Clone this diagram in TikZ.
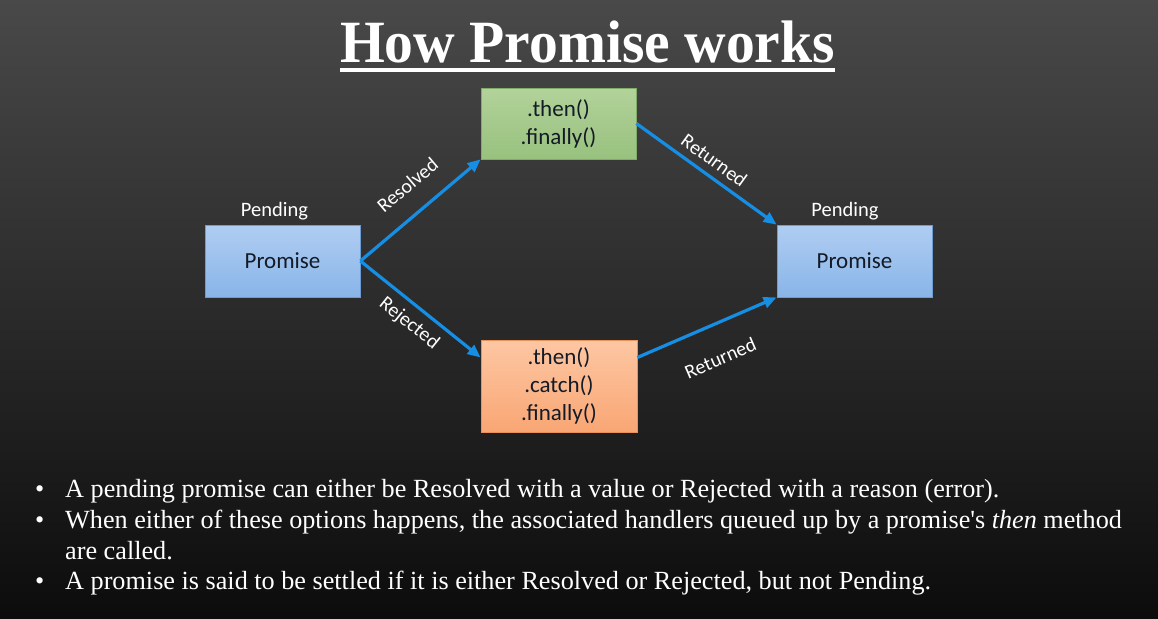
\documentclass[tikz,border=0pt]{standalone}
\usepackage{fontspec}
\setmainfont{Liberation Serif}
\setsansfont{Carlito}
\usetikzlibrary{arrows.meta,calc}

\definecolor{bgtop}{HTML}{494949}
\definecolor{bgbot}{HTML}{0C0C0C}
\definecolor{bluetop}{HTML}{B0CDF2}
\definecolor{bluebot}{HTML}{88B5E8}
\definecolor{blueedge}{HTML}{6E9BD3}
\definecolor{greentop}{HTML}{B2D29A}
\definecolor{greenbot}{HTML}{98C17E}
\definecolor{greenedge}{HTML}{82AA68}
\definecolor{orangetop}{HTML}{FDC7A3}
\definecolor{orangebot}{HTML}{F9A674}
\definecolor{orangeedge}{HTML}{E8915A}
\definecolor{flowblue}{RGB}{22,142,228}
\definecolor{boxtext}{HTML}{141A26}

\tikzset{
  box/.style={draw, line width=0.8pt, minimum width=155pt, inner sep=0pt,
    align=center, text=boxtext, font=\sffamily\fontsize{23}{28}\selectfont},
  bluebox/.style={box, draw=blueedge, top color=bluetop, bottom color=bluebot, minimum height=72pt},
  greenbox/.style={box, draw=greenedge, top color=greentop, bottom color=greenbot, minimum height=71pt},
  orangebox/.style={box, draw=orangeedge, top color=orangetop, bottom color=orangebot,
    minimum height=92pt, minimum width=156pt},
  state/.style={anchor=base, inner sep=0pt, text=white, font=\sffamily\fontsize{20.5}{24}\selectfont},
  flow/.style={draw=flowblue, line width=3.2pt, -{Triangle[length=13pt,width=11pt]}},
  lbl/.style={sloped, inner sep=0pt, text=white, font=\sffamily\fontsize{20}{24}\selectfont},
  bul/.style={anchor=base west, inner sep=0pt, text=white, font=\fontsize{26.2}{30}\selectfont}
}

\begin{document}
\begin{tikzpicture}[x=1pt,y=-1pt]
  % slide background
  \shade[top color=bgtop, bottom color=bgbot] (0,0) rectangle (1158,618);
  \useasboundingbox (0,0) rectangle (1158,618);

  % title with underline
  \node[anchor=base, inner sep=0pt, text=white,
        font=\bfseries\fontsize{60}{60}\selectfont] (title) at (587.5,63)
        {\scalebox{0.96}[1]{How Promise works}};
  \fill[white] (340,67.5) rectangle (835,72);

  % promise states and handlers
  \node[bluebox]   (src) at (282.5,261)  {Promise};
  \node[greenbox]  (ok)  at (558.5,123.5) {.then()\\.finally()};
  \node[orangebox] (err) at (559,386)    {.then()\\.catch()\\.finally()};
  \node[bluebox]   (dst) at (854.5,261)  {Promise};

  \node[state] (srcstate) at (274.5,216) {Pending};
  \node[state] (dststate) at (845,216)   {Pending};

  % transitions
  \draw[flow] (src.east) -- node[lbl, pos=0.54, above=19pt] {Resolved} (ok.south west);
  \draw[flow] (src.east) -- node[lbl, pos=0.5, below=8pt] {Rejected} (err.160);
  \draw[flow] (ok.east) -- node[lbl, pos=0.49, above=7pt] {Returned} (dst.north west);
  \draw[flow] (err.20) -- node[lbl, pos=0.5, below=25pt] {Returned} (dst.south west);

  % notes
  \node[bul] (d1) at (35,497) {\textbullet};
  \node[bul] (d2) at (35,528) {\textbullet};
  \node[bul] (d3) at (35,589) {\textbullet};
  \node[bul] (n1) at (65,497) {A pending promise can either be Resolved with a value or Rejected with a reason (error).};
  \node[bul] (n2) at (65,528) {When either of these options happens, the associated handlers queued up by a promise\textquotesingle s \textit{then} method};
  \node[bul] (n3) at (65,559) {are called.};
  \node[bul] (n4) at (65,589) {A promise is said to be settled if it is either Resolved or Rejected, but not Pending.};
\end{tikzpicture}
\end{document}
